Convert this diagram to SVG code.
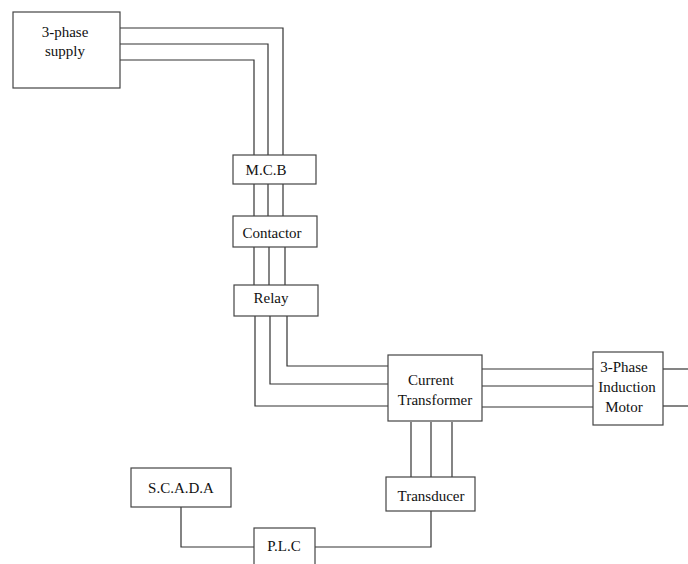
<svg xmlns="http://www.w3.org/2000/svg" width="688" height="564" viewBox="0 0 688 564">
<style>
.box{fill:#fff;stroke:#444;stroke-width:1.2}
.w{fill:none;stroke:#333;stroke-width:1.2}
text{font-family:"Liberation Serif","Times New Roman",serif;font-size:15px;fill:#111;text-anchor:middle}
</style>
<rect width="688" height="564" fill="#fff"/>
<g id="connectors">
<polyline class="w" points="120,28 283,28 283,155"/>
<polyline class="w" points="120,44 268,44 268,155"/>
<polyline class="w" points="120,60 254,60 254,155"/>
<line class="w" x1="254" y1="184" x2="254" y2="216"/>
<line class="w" x1="268" y1="184" x2="268" y2="216"/>
<line class="w" x1="283" y1="184" x2="283" y2="216"/>
<line class="w" x1="254" y1="247" x2="254" y2="285"/>
<line class="w" x1="269" y1="247" x2="269" y2="285"/>
<line class="w" x1="285" y1="247" x2="285" y2="285"/>
<polyline class="w" points="255,316 255,406 388,406"/>
<polyline class="w" points="270,316 270,384 388,384"/>
<polyline class="w" points="287,316 287,366 388,366"/>
<line class="w" x1="482" y1="369" x2="593" y2="369"/>
<line class="w" x1="482" y1="386" x2="593" y2="386"/>
<line class="w" x1="482" y1="407" x2="593" y2="407"/>
<line class="w" x1="663" y1="369" x2="688" y2="369"/>
<line class="w" x1="663" y1="406" x2="688" y2="406"/>
<line class="w" x1="411" y1="422" x2="411" y2="477"/>
<line class="w" x1="431" y1="422" x2="431" y2="477"/>
<line class="w" x1="452" y1="422" x2="452" y2="477"/>
<polyline class="w" points="431,511 431,547 315,547"/>
<polyline class="w" points="181,507 181,547 254,547"/>
</g>
<g id="supply"><rect class="box" x="13" y="12" width="107" height="76"/><text x="65" y="37">3-phase</text><text x="65" y="56">supply</text></g>
<g id="mcb"><rect class="box" x="233" y="155" width="83" height="29"/><text x="266" y="175">M.C.B</text></g>
<g id="contactor"><rect class="box" x="233" y="216" width="84" height="31"/><text x="272" y="238">Contactor</text></g>
<g id="relay"><rect class="box" x="234" y="285" width="84" height="31"/><text x="271" y="303">Relay</text></g>
<g id="ct"><rect class="box" x="388" y="355" width="94" height="66"/><text x="431" y="385">Current</text><text x="435" y="405">Transformer</text></g>
<g id="motor"><rect class="box" x="593" y="352" width="70" height="73"/><text x="624" y="372">3-Phase</text><text x="627" y="392">Induction</text><text x="624" y="412">Motor</text></g>
<g id="transducer"><rect class="box" x="386" y="477" width="89" height="34"/><text x="431" y="501">Transducer</text></g>
<g id="scada"><rect class="box" x="131" y="468" width="100" height="39"/><text x="181" y="493">S.C.A.D.A</text></g>
<g id="plc"><rect class="box" x="254" y="528" width="61" height="40"/><text x="284" y="551">P.L.C</text></g>
</svg>
